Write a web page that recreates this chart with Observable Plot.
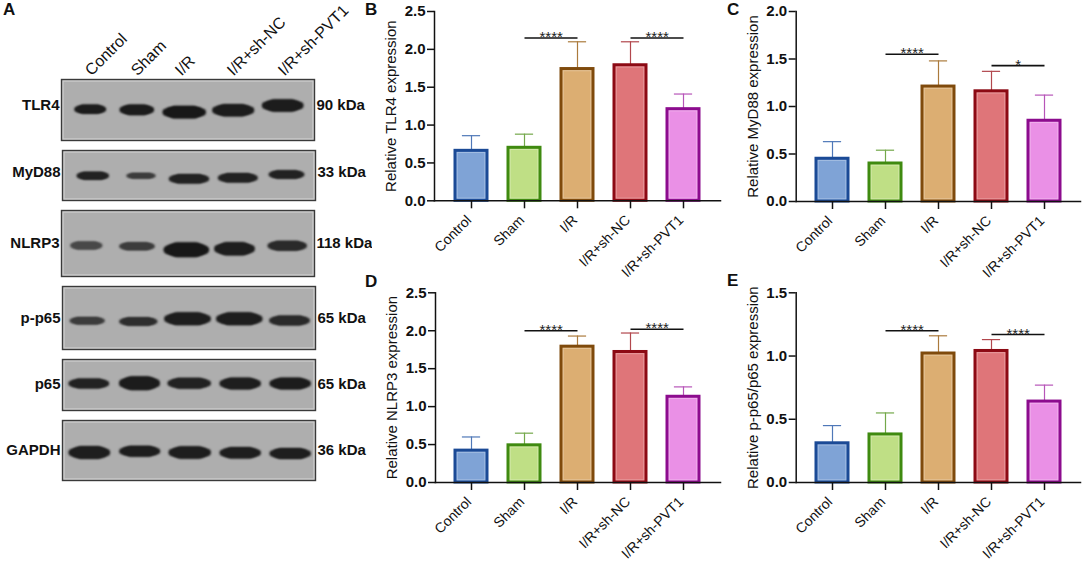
<!DOCTYPE html>
<html><head><meta charset="utf-8">
<style>
html,body{margin:0;padding:0;background:#fff;}
#fig{position:relative;width:1084px;height:566px;overflow:hidden;font-family:"Liberation Sans",Arial,sans-serif;}
#fig>svg,#fig>div{position:absolute;}
#fig svg text{-webkit-text-stroke:0.25px #111;}
.tag{font-weight:bold;font-size:17px;line-height:17px;color:#111;}
</style>
<script src="https://cdn.jsdelivr.net/npm/d3@7"></script>
<script src="https://cdn.jsdelivr.net/npm/@observablehq/plot@0.6"></script>
</head><body><div id="fig"></div>
<script>
const groups = ["Control","Sham","I/R","I/R+sh-NC","I/R+sh-PVT1"];
const fills = ["#7fa3d6","#bfdf85","#dcae72","#df7579","#ea90e6"];
const edges = ["#1b4a96","#3f8a10","#7f4a0c","#8c0a14","#8c0c8e"];
const whisk = ["#4f78b8","#74a84a","#ab7a3c","#b2474d","#b755b8"];

// Panels B-E: means, upper error limits
const tlr4Mean  = [0.66,0.70,1.74,1.79,1.21];
const tlr4Upper = [0.86,0.88,2.10,2.10,1.41];
const myd88Mean  = [0.45,0.40,1.21,1.16,0.85];
const myd88Upper = [0.63,0.54,1.48,1.37,1.12];
const nlrp3Mean  = [0.42,0.49,1.79,1.72,1.13];
const nlrp3Upper = [0.60,0.65,1.93,1.97,1.26];
const p65Mean  = [0.31,0.38,1.02,1.04,0.64];
const p65Upper = [0.45,0.55,1.16,1.13,0.77];

// Panel A: band centre across the gel, band width, migration, thickness, darkness
const blotNames = ["TLR4","MyD88","NLRP3","p-p65","p65","GAPDH"];
const blotKda = ["90 kDa","33 kDa","118 kDa","65 kDa","65 kDa","36 kDa"];
const gelLength = [61,50,66,63,51,60];
const labelAt = [26,22,33,32,25,30];
const bandX = [[28.7,75.3,122.7,171.7,221.2],[30.3,78.5,126.5,175.3,224],[24.8,75.5,124.8,173,225.7],[24.7,75.8,125,176.8,227],[26.3,77,126.7,177.7,227.7],[26.8,77.2,127.2,177.7,227.7]];
const bandW = [[31.3,34,42.7,41.3,41],[32,29,39.7,39.3,35.3],[31.7,35,45,40,38.7],[34.7,37.7,46,45.7,40],[40,40.3,42.7,40.7,40.7],[41,40.3,41.7,40.7,40.7]];
const bandY = [[29.7,30.3,32.7,30.7,26],[25.3,25.3,28.3,27.3,24],[35,35.7,39.3,38.3,35.3],[34.3,35,32.3,32.3,34],[24,23.7,23.7,24,24],[32,30.7,32,32.3,33]];
const bandH = [[9.3,10.7,12.7,12.5,12.5],[8,5.5,9.5,9.5,8.5],[8,8,15,13.5,10],[7.5,8.5,13,13,10],[10,14,11,12,12],[13,11,12.5,11.5,11]];
const bandInk = [["#1c1c1c","#1c1c1c","#181818","#1c1c1c","#1c1c1c"],["#222","#3c3c3c","#222","#222","#222"],["#484848","#3c3c3c","#181818","#1e1e1e","#2a2a2a"],["#3c3c3c","#2e2e2e","#1e1e1e","#1e1e1e","#2a2a2a"],["#222","#1c1c1c","#222","#1e1e1e","#1c1c1c"],["#1e1e1e","#1e1e1e","#1e1e1e","#1e1e1e","#1e1e1e"]];
const laneLabelAt = [30,76,120,172,223];

// Significance brackets
const sigB = [{from:"Sham",to:"I/R",y:2.15,mark:"****"},{from:"I/R+sh-NC",to:"I/R+sh-PVT1",y:2.15,mark:"****"}];
const sigC = [{from:"Sham",to:"I/R",y:1.55,mark:"****"},{from:"I/R+sh-NC",to:"I/R+sh-PVT1",y:1.43,mark:"*"}];
const sigD = [{from:"Sham",to:"I/R",y:2.0,mark:"****"},{from:"I/R+sh-NC",to:"I/R+sh-PVT1",y:2.02,mark:"****"}];
const sigE = [{from:"Sham",to:"I/R",y:1.2,mark:"****"},{from:"I/R+sh-NC",to:"I/R+sh-PVT1",y:1.17,mark:"****"}];

const fig = document.getElementById("fig");
const font = {fontFamily:"'Liberation Sans',Arial,sans-serif",background:"transparent",color:"#111"};
function place(el,left,top){el.style.position="absolute";el.style.left=left+"px";el.style.top=top+"px";fig.appendChild(el);}

function barPanel({left,top,width,height,ml,mr,mt,mb,means,uppers,max,ticks,title,sig}){
  const rows = groups.map((g,i)=>({g,mean:means[i],upper:uppers[i],fill:fills[i],edge:edges[i],whisk:whisk[i]}));
  const chart = Plot.plot({
    width,height,marginLeft:ml,marginRight:mr,marginTop:mt,marginBottom:mb,style:font,
    x:{type:"band",domain:groups,paddingInner:0.405,paddingOuter:0.38,align:0.49,label:null},
    y:{domain:[0,max],label:null},
    marks:[
      Plot.ruleX(rows,{x:"g",y1:"mean",y2:"upper",stroke:"whisk",strokeWidth:1.2}),
      Plot.tickY(rows,{x:"g",y:"upper",stroke:"whisk",strokeWidth:1.2,insetLeft:6.9,insetRight:6.9}),
      Plot.barY(rows,{x:"g",y1:0,y2:"mean",fill:"fill",stroke:"edge",strokeWidth:3}),
      Plot.barY(rows,{x:"g",y1:0,y2:"mean",fill:"none",stroke:"white",strokeOpacity:0.28,strokeWidth:1,inset:2.2}),
      Plot.axisY({ticks,tickFormat:d3.format(".1f"),tickSize:7,tickPadding:2,strokeWidth:1.5,stroke:"#111",fontSize:15,fontWeight:"bold",label:null}),
      Plot.axisX({tickSize:8,tickFormat:()=>"",strokeWidth:1.5,stroke:"#111",label:null}),
      Plot.axisX({tickSize:0,tickPadding:17,tickRotate:-45,dx:-2.5,fontSize:14,label:null}),
      Plot.frame({anchor:"left",stroke:"#111",strokeWidth:1.5}),
      Plot.frame({anchor:"bottom",stroke:"#111",strokeWidth:1.5}),
      Plot.text([title],{frameAnchor:"left",textAnchor:"middle",dx:-43,rotate:-90,fontSize:15,fill:"#111",text:d=>d}),
      Plot.link(sig,{x1:"from",x2:"to",y1:"y",y2:"y",stroke:"#111",strokeWidth:1.6}),
      Plot.text(sig,{x:"from",y:"y",text:"mark",dx:26.7,dy:4,fontSize:15,lineAnchor:"bottom",fill:"#222"})
    ]
  });
  place(chart,left,top);
}

barPanel({left:365,top:0,width:360,height:286,ml:69,mr:5,mt:11,mb:85.7,means:tlr4Mean,uppers:tlr4Upper,max:2.5,ticks:[0,0.5,1,1.5,2,2.5],title:"Relative TLR4 expression",sig:sigB});
barPanel({left:725,top:0,width:359,height:286,ml:70.7,mr:4,mt:11,mb:85,means:myd88Mean,uppers:myd88Upper,max:2,ticks:[0,0.5,1,1.5,2],title:"Relative MyD88 expression",sig:sigC});
barPanel({left:365,top:280,width:360,height:286,ml:70,mr:5,mt:12.3,mb:84,means:nlrp3Mean,uppers:nlrp3Upper,max:2.5,ticks:[0,0.5,1,1.5,2,2.5],title:"Relative NLRP3 expression",sig:sigD});
barPanel({left:725,top:280,width:359,height:286,ml:70.7,mr:4,mt:12.3,mb:84,means:p65Mean,uppers:p65Upper,max:1.5,ticks:[0,0.5,1,1.5],title:"Relative p-p65/p65 expression",sig:sigE});

// Panel A
const gelTop = [79,150,210,286,359,420];
const gelLeft = [61,62,61,62,62,62];
blotNames.forEach((name,r)=>{
  const len = gelLength[r];
  const bands = bandX[r].map((x,i)=>({x,w:bandW[r][i],y:bandY[r][i],h:bandH[r][i],ink:bandInk[r][i]}));
  const tier = (wf,hf)=>Plot.link(bands,{x1:d=>d.x-d.w*wf/2+d.h*hf/2,x2:d=>d.x+d.w*wf/2-d.h*hf/2,y1:"y",y2:"y",stroke:"ink",strokeWidth:d=>d.h*hf,strokeLinecap:"round",imageFilter:"blur(0.9px)"});
  const chart = Plot.plot({
    width:372,height:len+4,marginLeft:gelLeft[r],marginRight:372-gelLeft[r]-253,marginTop:2,marginBottom:2,style:font,
    x:{domain:[0,253],axis:null},y:{domain:[0,len],reverse:true,axis:null},
    marks:[
      Plot.frame({fill:"#aeaeae",stroke:"#3a3a3a",strokeWidth:1.4}),
      Plot.frame({inset:1.6,stroke:"#cfcfcf",strokeWidth:1}),
      tier(1.02,0.55),
      tier(0.9,0.8),
      tier(0.74,1),
      Plot.text([name],{x:0,y:labelAt[r],dx:-2,textAnchor:"end",fontSize:15,fontWeight:"bold",fill:"#111",text:d=>d}),
      Plot.text([blotKda[r]],{x:253,y:labelAt[r],dx:2,textAnchor:"start",fontSize:15,fontWeight:"bold",fill:"#111",text:d=>d})
    ]
  });
  place(chart,0,gelTop[r]-2);
});
const lanes = Plot.plot({
  width:372,height:79,marginLeft:61,marginRight:58,marginTop:0,marginBottom:0,style:font,
  x:{domain:[0,253],axis:null},y:{domain:[0,1],axis:null},
  marks:[Plot.text(groups,{x:laneLabelAt,y:0,dy:-3,rotate:-45,textAnchor:"start",lineAnchor:"bottom",fontSize:16,fill:"#111",text:d=>d})]
});
place(lanes,0,0);

[["A",3,1],["B",365,1],["C",727,1],["D",365,273],["E",727,272]].forEach(([t,l,y])=>{
  const d=document.createElement("div");d.className="tag";d.textContent=t;place(d,l,y);
});
</script></body></html>
